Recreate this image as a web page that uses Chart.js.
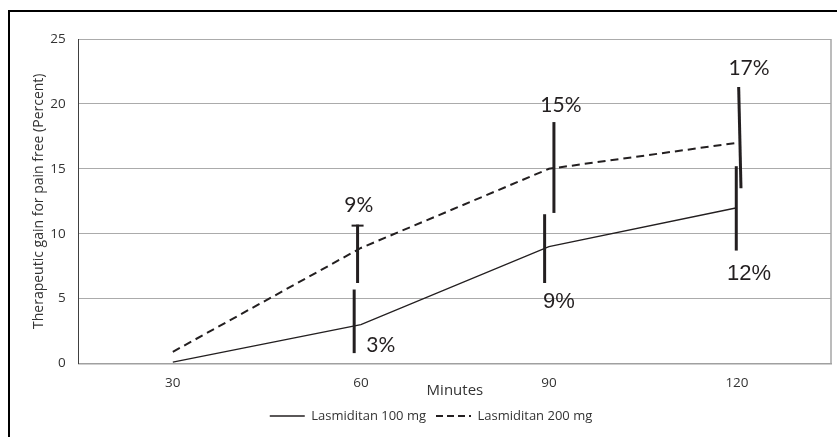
<!DOCTYPE html>
<html><head><meta charset="utf-8">
<script src="https://cdn.jsdelivr.net/npm/chart.js@4"></script>
<style>
html,body{margin:0;padding:0;background:#fff;}
#wrap{position:relative;width:837px;height:437px;overflow:hidden;}
#frame{position:absolute;left:8px;top:10px;width:840px;height:440px;border-left:2px solid #000;border-top:2px solid #000;pointer-events:none;}
canvas{position:absolute;left:0;top:0;}
</style></head><body>
<div id="wrap"><canvas id="c" width="837" height="437"></canvas><div id="frame"></div></div>
<script>
const minutes = ['30', '60', '90', '120'];
const gain100 = [0.1, 3, 9, 12];
const gain200 = [0.9, 8.9, 15, 17];
const err100Low = [null, 0.8, 6.2, 8.7];
const err100High = [null, 5.7, 11.5, 15.2];
const err200Low = [null, 6.2, 11.6, 13.5];
const err200High = [null, 10.7, 18.6, 21.3];
const labels100 = ['', '3%', '9%', '12%'];
const labels200 = ['', '9%', '15%', '17%'];
const yTicks = [0, 5, 10, 15, 20, 25];

const INK = '#231f20';
const FONT = '"Open Sans"';
// styling of error bars / labels (pixel offsets only)
const barStyle = {
  0: {dxTop: [0, -6.7, -4.3, -0.7], dxBot: [0, -6.7, -4.3, -0.7], cap: [false, false, false, false]},
  1: {dxTop: [0, -3.3, 5, 1.7], dxBot: [0, -3.3, 5, 4], cap: [false, true, false, false]}
};
const lblStyle = {
  0: {anchor: 'low', dx: [0, 20, 10, 12], dy: [0, -8, 19, 23],
      font: ['', '21px Lato', '22px "Liberation Sans"', '22px "Liberation Sans"']},
  1: {anchor: 'high', dx: [0, -2, 12, 12], dy: [0, -19, -17, -19],
      font: ['', '21px Lato', '21px Lato', '21px Lato']}
};

const errPlugin = {
  id: 'errBars',
  beforeDatasetsDraw(chart) {
    const {ctx, chartArea: a} = chart;
    ctx.save();
    ctx.strokeStyle = '#a6a6a6';
    ctx.lineWidth = 1.5;
    ctx.beginPath();
    ctx.moveTo(a.right, a.top);
    ctx.lineTo(a.right, a.bottom);
    ctx.stroke();
    ctx.restore();
  },
  afterDatasetsDraw(chart) {
    const {ctx} = chart;
    const xs = chart.scales.x, ys = chart.scales.y;
    const sets = [[err100Low, err100High, labels100], [err200Low, err200High, labels200]];
    ctx.save();
    sets.forEach(([lo, hi, lbls], di) => {
      const bs = barStyle[di], ls = lblStyle[di];
      lo.forEach((l, i) => {
        if (l === null) return;
        const cx = xs.getPixelForValue(i);
        const yl = ys.getPixelForValue(l), yh = ys.getPixelForValue(hi[i]);
        ctx.strokeStyle = INK;
        ctx.lineWidth = 3;
        ctx.lineCap = 'butt';
        ctx.beginPath();
        ctx.moveTo(cx + bs.dxTop[i], yh);
        ctx.lineTo(cx + bs.dxBot[i], yl);
        ctx.stroke();
        if (bs.cap[i]) {
          ctx.lineWidth = 2;
          ctx.beginPath();
          ctx.moveTo(cx + bs.dxTop[i] - 6, yh + 1);
          ctx.lineTo(cx + bs.dxTop[i] + 6, yh + 1);
          ctx.stroke();
        }
        const ay = ls.anchor === 'low' ? yl : yh;
        ctx.fillStyle = INK;
        ctx.font = ls.font[i];
        ctx.textAlign = 'center';
        ctx.textBaseline = 'middle';
        ctx.fillText(lbls[i], cx + ls.dx[i], ay + ls.dy[i]);
      });
    });
    ctx.restore();
  }
};

const tickFont = {family: FONT, size: 13.5};
new Chart(document.getElementById('c'), {
  type: 'line',
  data: {
    labels: minutes,
    datasets: [
      {label: 'Lasmiditan 100 mg', data: gain100, borderColor: INK, backgroundColor: INK, borderWidth: 1.3,
       pointRadius: 0, tension: 0, fill: false},
      {label: 'Lasmiditan 200 mg', data: gain200, borderColor: INK, backgroundColor: INK, borderWidth: 2,
       borderDash: [8, 5], pointRadius: 0, tension: 0, fill: false}
    ]
  },
  options: {
    responsive: false, animation: false, devicePixelRatio: 1,
    layout: {padding: {left: 31, top: 39, right: 6, bottom: 4.5}},
    plugins: {
      legend: {position: 'bottom',
        labels: {usePointStyle: true, pointStyle: 'line', pointStyleWidth: 35, boxHeight: 10,
                 font: {family: FONT, size: 13}, color: '#333', padding: 10,
                 generateLabels(chart) {
                   const items = Chart.defaults.plugins.legend.labels.generateLabels(chart);
                   items.forEach((it, k) => {
                     const ds = chart.data.datasets[k];
                     it.lineDash = ds.borderDash ? [7, 4] : [];
                     it.lineWidth = ds.borderDash ? 2 : 1.5;
                     it.strokeStyle = INK;
                   });
                   return items;
                 }}},
      tooltip: {enabled: false}
    },
    scales: {
      x: {
        offset: true,
        grid: {display: false, drawTicks: false},
        border: {color: '#a0a0a0', width: 1.5},
        ticks: {padding: 12, font: tickFont, color: '#333'},
        title: {display: true, text: 'Minutes', font: {family: FONT, size: 15}, color: '#333', padding: {top: -8, bottom: 0}},
        afterFit(s) { s.height = 36; }
      },
      y: {
        min: 0, max: 25,
        afterBuildTicks(s) { s.ticks = yTicks.map(v => ({value: v})); },
        grid: {color: '#ababab', drawTicks: false},
        border: {color: '#404040', width: 1},
        ticks: {padding: 13, font: tickFont, color: '#333'},
        title: {display: true, text: 'Therapeutic gain for pain free (Percent)', font: {family: FONT, size: 14}, color: '#333', padding: {top: 0, bottom: 0}},
        afterFit(s) { s.width = 47.8; }
      }
    }
  },
  plugins: [errPlugin]
});
</script>
</body></html>
